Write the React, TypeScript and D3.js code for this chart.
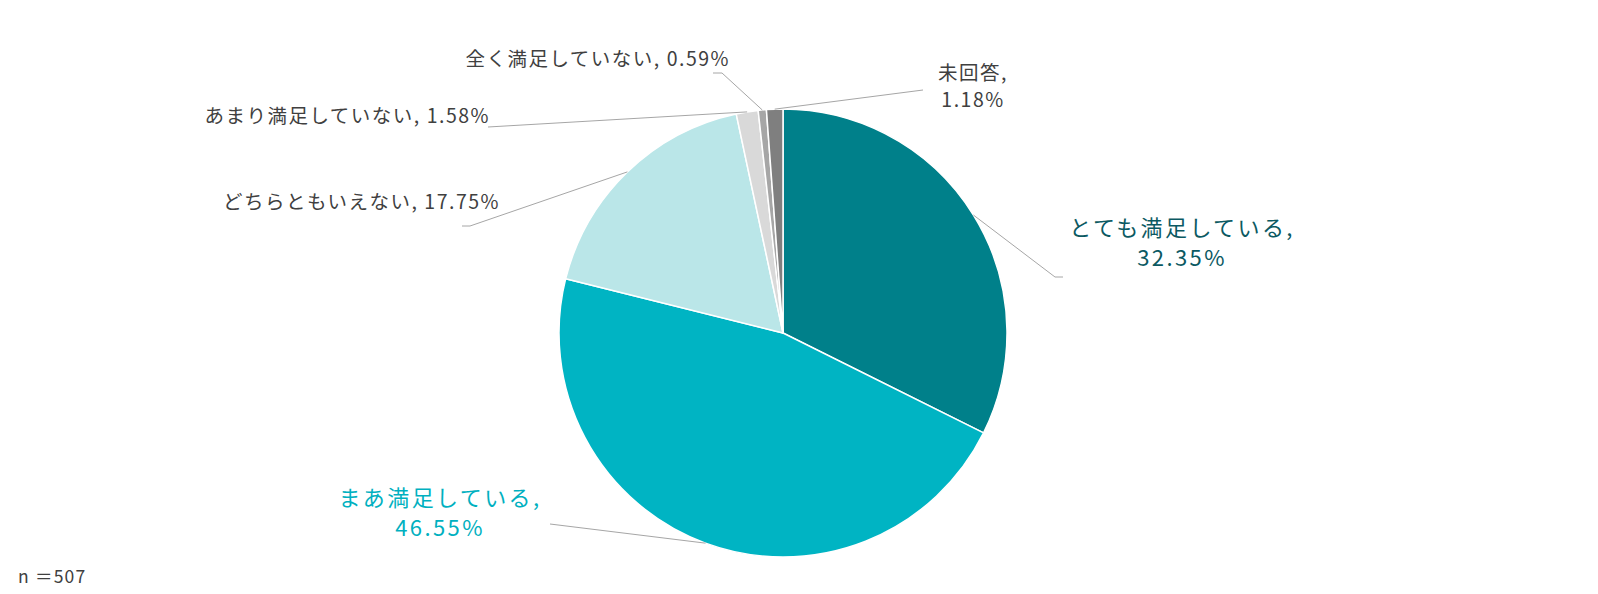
import React, { useEffect, useRef } from 'react';
import * as d3 from 'd3';

// answer categories, clockwise from 12 o'clock
const categories = ['とても満足している', 'まあ満足している', 'どちらともいえない', 'あまり満足していない', '全く満足していない', '未回答'];
const shares = [32.35, 46.55, 17.75, 1.58, 0.59, 1.18];
const sliceColors = ['#00808A', '#00B4C3', '#BAE6E8', '#D9D9D9', '#A6A6A6', '#7F7F7F'];
const sampleNote = 'n ＝507';

// label placement: anchor point of the text block, leader elbow, and how the label wraps
const labelLayout = [
  { x: 1182, y: 236, lines: 2, size: 22, spacing: 2.4, color: '#0B5962', anchor: 'middle', elbow: [1055, 277], end: [1063, 277] },
  { x: 440, y: 506, lines: 2, size: 22, spacing: 2.4, color: '#00B0C0', anchor: 'middle', elbow: [550, 524], end: [550, 524] },
  { x: 500, y: 209, lines: 1, size: 19.5, spacing: 1.5, color: '#404040', anchor: 'end', elbow: [470, 226], end: [462, 226] },
  { x: 490, y: 123, lines: 1, size: 19.5, spacing: 1.5, color: '#404040', anchor: 'end', elbow: [488, 127], end: [488, 127] },
  { x: 730, y: 66, lines: 1, size: 19.5, spacing: 1.5, color: '#404040', anchor: 'end', elbow: [722, 73], end: [713, 73] },
  { x: 973, y: 80, lines: 2, size: 19.5, spacing: 1.5, color: '#404040', anchor: 'middle', elbow: [923, 90], end: [923, 90] },
];

const W = 1598;
const H = 594;
const cx = 783;
const cy = 333;
const radius = 224;
const FONT = '"Noto Sans CJK JP", "Noto Sans", sans-serif';

export default function App() {
  const svgRef = useRef<SVGSVGElement>(null);

  useEffect(() => {
    if (!svgRef.current) return;
    const svg = d3.select(svgRef.current);
    svg.selectAll('*').remove();

    const data = categories.map((name, i) => ({ name, value: shares[i], i }));
    const pie = d3.pie<any>().sort(null).value(d => d.value);
    const arcs = pie(data);
    const arc = d3.arc<any>().innerRadius(0).outerRadius(radius);
    const edge = d3.arc<any>().innerRadius(radius).outerRadius(radius);

    const g = svg.append('g').attr('transform', `translate(${cx},${cy})`);

    g.selectAll('path.slice')
      .data(arcs)
      .enter()
      .append('path')
      .attr('class', 'slice')
      .attr('d', arc)
      .attr('fill', d => sliceColors[d.data.i])
      .attr('stroke', '#fff')
      .attr('stroke-width', 1.5)
      .attr('stroke-linejoin', 'round');

    // leader lines from slice edge to label
    svg.selectAll('polyline.leader')
      .data(arcs)
      .enter()
      .append('polyline')
      .attr('class', 'leader')
      .attr('points', d => {
        const [ex, ey] = edge.centroid(d);
        const L = labelLayout[d.data.i];
        return [[cx + ex, cy + ey], L.elbow, L.end].map(p => p.join(',')).join(' ');
      })
      .attr('fill', 'none')
      .attr('stroke', '#A6A6A6')
      .attr('stroke-width', 1);

    // labels
    arcs.forEach(d => {
      const L = labelLayout[d.data.i];
      const pct = `${d.data.value.toFixed(2)}%`;
      const t = svg.append('text')
        .attr('x', L.x)
        .attr('y', L.y)
        .attr('text-anchor', L.anchor)
        .attr('font-family', FONT)
        .attr('font-size', L.size)
        .attr('letter-spacing', L.spacing)
        .attr('fill', L.color);
      if (L.lines === 2) {
        t.append('tspan').attr('x', L.x).text(`${d.data.name},`);
        t.append('tspan').attr('x', L.x).attr('dy', L.size * 1.38).text(pct);
      } else {
        t.text(`${d.data.name}, ${pct}`);
      }
    });

    svg.append('text')
      .attr('x', 18)
      .attr('y', 583)
      .attr('font-family', FONT)
      .attr('font-size', 17.5)
      .attr('letter-spacing', 1.2)
      .attr('fill', '#404040')
      .text(sampleNote);
  }, []);

  return (
    <svg
      ref={svgRef}
      width={W}
      height={H}
      style={{ position: 'absolute', left: 0, top: 0, background: '#fff' }}
    />
  );
}
